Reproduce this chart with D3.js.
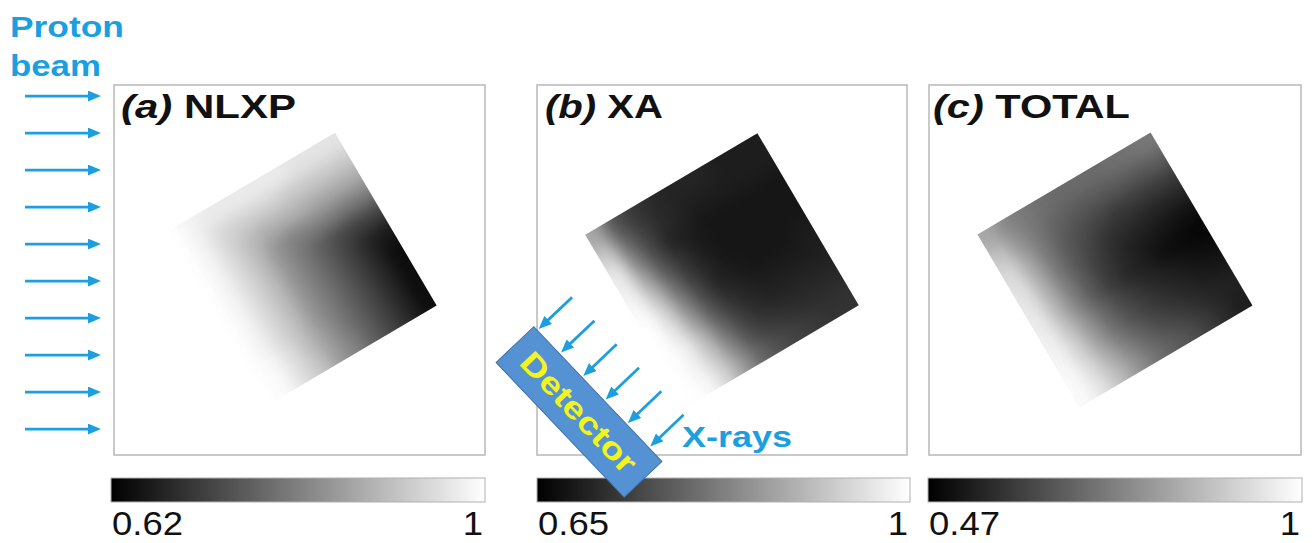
<!DOCTYPE html>
<html><head><meta charset="utf-8">
<script src="https://cdn.jsdelivr.net/npm/d3@7"></script>
<style>html,body{margin:0;padding:0;background:#fff;}svg{display:block;font-family:"Liberation Sans",Arial,sans-serif;}</style>
</head><body><svg id="chart" width="1315" height="543"></svg>
<script>
// ---------------- data ----------------
const panelTags = ["(a)", "(b)", "(c)"];
const panelNames = ["NLXP", "XA", "TOTAL"];
const colorMin = [0.62, 0.65, 0.47];
const colorMax = [1, 1, 1];
const tickLabels = [["0.62", "1"], ["0.65", "1"], ["0.47", "1"]];
// object (square sample) in frame units (0..100), rotation in degrees
const objectCenter = [50, 50];
const objectSide = 54;
const objectAngle = 30.5;
// value maps over the square, rows = from beam-entry face (top) to far face, cols = detector side -> far side
const nlxp = [
  [1.00,0.98,0.97,0.97,0.97,0.97,0.97,0.96,0.96,0.96],
  [1.00,0.98,0.94,0.93,0.93,0.93,0.92,0.92,0.92,0.92],
  [1.00,0.98,0.94,0.90,0.88,0.88,0.88,0.87,0.87,0.87],
  [1.00,0.98,0.94,0.90,0.84,0.81,0.81,0.81,0.80,0.80],
  [1.00,0.98,0.94,0.90,0.84,0.80,0.76,0.73,0.72,0.72],
  [1.00,0.98,0.94,0.90,0.84,0.80,0.76,0.72,0.68,0.66],
  [1.00,0.98,0.94,0.90,0.84,0.80,0.76,0.72,0.68,0.64],
  [1.00,0.98,0.94,0.90,0.84,0.80,0.76,0.72,0.68,0.64],
  [1.00,0.99,0.95,0.90,0.85,0.80,0.76,0.72,0.68,0.64],
  [1.00,0.99,0.95,0.91,0.85,0.81,0.76,0.72,0.68,0.64]
];
const xa = [
  [0.88,0.77,0.73,0.71,0.70,0.70,0.70,0.69,0.69,0.69],
  [0.93,0.80,0.74,0.71,0.70,0.69,0.69,0.69,0.69,0.69],
  [0.97,0.83,0.75,0.70,0.69,0.68,0.68,0.68,0.68,0.68],
  [0.98,0.87,0.77,0.72,0.69,0.68,0.68,0.68,0.68,0.68],
  [0.99,0.91,0.80,0.73,0.70,0.68,0.68,0.68,0.68,0.68],
  [1.00,0.94,0.83,0.75,0.70,0.69,0.68,0.68,0.68,0.69],
  [1.00,0.96,0.86,0.77,0.72,0.70,0.69,0.69,0.69,0.69],
  [1.00,0.98,0.90,0.80,0.74,0.71,0.70,0.70,0.70,0.70],
  [1.00,0.98,0.92,0.83,0.76,0.73,0.72,0.71,0.71,0.71],
  [1.00,0.99,0.94,0.86,0.79,0.76,0.74,0.73,0.72,0.72]
];
const total = [
  [0.82,0.75,0.72,0.70,0.69,0.69,0.69,0.70,0.71,0.72],
  [0.88,0.78,0.72,0.68,0.66,0.65,0.65,0.65,0.65,0.66],
  [0.92,0.81,0.72,0.66,0.63,0.61,0.59,0.59,0.59,0.59],
  [0.94,0.83,0.72,0.65,0.61,0.57,0.56,0.55,0.54,0.54],
  [0.95,0.84,0.73,0.65,0.59,0.56,0.53,0.52,0.51,0.50],
  [0.96,0.85,0.74,0.65,0.59,0.55,0.53,0.50,0.49,0.48],
  [0.97,0.88,0.77,0.68,0.62,0.58,0.55,0.53,0.51,0.50],
  [0.98,0.90,0.79,0.70,0.64,0.60,0.57,0.55,0.53,0.52],
  [0.99,0.92,0.83,0.74,0.68,0.63,0.60,0.57,0.55,0.54],
  [0.99,0.94,0.86,0.78,0.71,0.67,0.64,0.60,0.56,0.53]
];
const grids = [nlxp, xa, total];
const beamRows = [3, 13, 23, 33, 43, 53, 63, 73, 83, 93];   // proton beam lines (frame units)
const xrayRays = [0, 1, 2, 3, 4, 5];                          // x-ray lines to detector

// ---------------- layout ----------------
const frameX = [[114, 485], [537, 907], [929, 1301]];
const frameY = [85, 455];
const barX = [[111, 485], [537, 910], [928, 1302]];
const barY = 478, barH = 24;
const titleX = [[121, 296], [545, 663], [933, 1130]];
const blue = "#1b9fe0";

const svg = d3.select("#chart");
const defs = svg.append("defs");

const filt = defs.append("filter").attr("id", "smooth")
  .attr("x", "-20%").attr("y", "-20%").attr("width", "140%").attr("height", "140%")
  .attr("color-interpolation-filters", "sRGB");
filt.append("feGaussianBlur").attr("stdDeviation", 8);
filt.append("feColorMatrix").attr("type", "matrix")
  .attr("values", "1 0 0 0 0  0 1 0 0 0  0 0 1 0 0  0 0 0 60 0");

defs.append("marker").attr("id", "head").attr("viewBox", "0 0 13 11")
  .attr("markerUnits", "userSpaceOnUse").attr("markerWidth", 13).attr("markerHeight", 11)
  .attr("refX", 5).attr("refY", 5.5).attr("orient", "auto")
  .append("path").attr("d", "M0,0L13,5.5L0,11Z").attr("fill", blue);

function stretch(sel, left, right) {
  const bb = sel.node().getBBox();
  const k = (right - left) / bb.width;
  sel.attr("transform", `translate(${left},0) scale(${k},1) translate(${-bb.x},0)`);
  return k;
}

grids.forEach((grid, i) => {
  const fx = d3.scaleLinear().domain([0, 100]).range(frameX[i]);
  const fy = d3.scaleLinear().domain([0, 100]).range(frameY);
  const color = d3.scaleLinear().domain([colorMin[i], colorMax[i]]).range(["#000", "#fff"]).clamp(true);

  // frame
  svg.append("rect").attr("x", fx(0)).attr("y", fy(0))
    .attr("width", fx(100) - fx(0)).attr("height", fy(100) - fy(0))
    .attr("fill", "none").attr("stroke", "#b8b8b8").attr("stroke-width", 1.5);

  // object image
  const side = fx(objectSide) - fx(0);
  const g = svg.append("g")
    .attr("transform", `translate(${fx(objectCenter[0])},${fy(objectCenter[1])}) rotate(${-objectAngle})`);
  defs.append("clipPath").attr("id", "clip" + i)
    .append("rect").attr("x", -side / 2).attr("y", -side / 2).attr("width", side).attr("height", side);
  const bx = d3.scaleBand().domain(d3.range(grid[0].length)).range([-side / 2, side / 2]);
  const by = d3.scaleBand().domain(d3.range(grid.length)).range([-side / 2, side / 2]);
  const cells = grid.flatMap((row, r) => row.map((v, c) => ({ r, c, v })));
  g.append("g").attr("clip-path", `url(#clip${i})`)
    .append("g").attr("filter", "url(#smooth)")
    .selectAll("rect").data(cells).join("rect")
    .attr("x", d => bx(d.c)).attr("y", d => by(d.r))
    .attr("width", bx.bandwidth() + 0.6).attr("height", by.bandwidth() + 0.6)
    .attr("fill", d => color(d.v));

  // title
  const t = svg.append("text").attr("x", titleX[i][0]).attr("y", 118)
    .attr("font-size", 33).attr("font-weight", "bold").attr("fill", "#111");
  t.append("tspan").attr("font-style", "italic").text(panelTags[i]);
  t.append("tspan").text(" " + panelNames[i]);
  stretch(t, titleX[i][0], titleX[i][1]);

  // colorbar
  const grad = defs.append("linearGradient").attr("id", "grad" + i);
  const cs = d3.scaleLinear().domain([colorMin[i], colorMax[i]]);
  grad.selectAll("stop").data(cs.ticks(8).concat([colorMin[i], colorMax[i]]).sort(d3.ascending)).join("stop")
    .attr("offset", d => cs(d)).attr("stop-color", d => color(d));
  const bs = d3.scaleLinear().domain([colorMin[i], colorMax[i]]).range(barX[i]);
  svg.append("rect").attr("x", bs(colorMin[i])).attr("y", barY)
    .attr("width", bs(colorMax[i]) - bs(colorMin[i])).attr("height", barH)
    .attr("fill", `url(#grad${i})`).attr("stroke", "#b0b0b0").attr("stroke-width", 1);
  const l0 = svg.append("text").attr("x", bs(colorMin[i]) + 1).attr("y", 535)
    .attr("font-size", 33).attr("fill", "#111").text(tickLabels[i][0]);
  const k = stretch(l0, bs(colorMin[i]) + 1, bs(colorMin[i]) + 72);
  const l1 = svg.append("text").attr("x", 0).attr("y", 535)
    .attr("font-size", 33).attr("fill", "#111").text(tickLabels[i][1]);
  const w1 = l1.node().getBBox().width * k;
  stretch(l1, bs(colorMax[i]) - 2 - w1, bs(colorMax[i]) - 2);
});

// proton beam annotation
const fyA = d3.scaleLinear().domain([0, 100]).range(frameY);
svg.append("g").selectAll("line").data(beamRows).join("line")
  .attr("x1", 25).attr("x2", 93).attr("y1", d => fyA(d)).attr("y2", d => fyA(d))
  .attr("stroke", blue).attr("stroke-width", 2.8).attr("marker-end", "url(#head)");
const p1 = svg.append("text").attr("x", 10).attr("y", 37).attr("font-size", 29)
  .attr("font-weight", "bold").attr("fill", blue).text("Proton");
stretch(p1, 10, 124);
const p2 = svg.append("text").attr("x", 10).attr("y", 76).attr("font-size", 29)
  .attr("font-weight", "bold").attr("fill", blue).text("beam");
stretch(p2, 10, 101);

// detector + x-rays
const det = svg.append("g").attr("transform", "translate(579,412) rotate(46.5)");
det.append("rect").attr("x", -93).attr("y", -26).attr("width", 186).attr("height", 52)
  .attr("fill", "#5592d3").attr("stroke", "#3d70a8").attr("stroke-width", 1);
det.append("text").attr("x", 0).attr("y", 11).attr("text-anchor", "middle")
  .attr("font-size", 31).attr("font-weight", "bold").attr("fill", "#f4f41c")
  .attr("textLength", 154).attr("lengthAdjust", "spacingAndGlyphs").text("Detector");
const rs = d3.scaleLinear().domain([0, 5]).range([-88, 74]);
det.append("g").selectAll("line").data(xrayRays).join("line")
  .attr("x1", d => rs(d)).attr("x2", d => rs(d)).attr("y1", -74).attr("y2", -36)
  .attr("stroke", blue).attr("stroke-width", 2.8).attr("marker-end", "url(#head)");
const xr = svg.append("text").attr("x", 682).attr("y", 447).attr("font-size", 29)
  .attr("font-weight", "bold").attr("fill", blue).text("X-rays");
stretch(xr, 682, 792);
</script></body></html>
